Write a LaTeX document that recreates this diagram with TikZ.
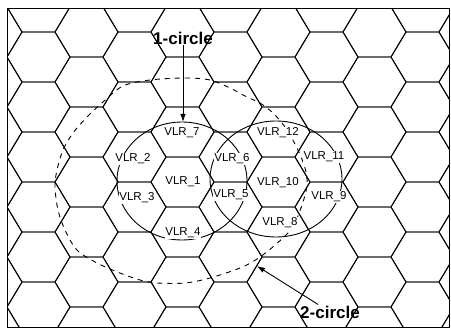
\documentclass[tikz,border=0pt]{standalone}
\usepackage{fontspec}
\setmainfont{Liberation Sans}
\usetikzlibrary{arrows.meta}
\begin{document}
\begin{tikzpicture}[x=1pt,y=-1pt,
  hexline/.style={line width=0.9pt, line join=round},
  frameline/.style={line width=1pt},
  vlr/.style={font=\fontsize{11.5}{12}\selectfont, fill=white, inner sep=0.8pt},
  tag/.style={font=\bfseries\fontsize{17}{18}\selectfont, inner sep=1pt},
  ring/.style={line width=0.9pt},
  bigring/.style={line width=0.9pt, dash pattern=on 5pt off 5pt},
  pointer/.style={line width=0.9pt, -{Latex[length=8pt,width=5.5pt]}}]
\useasboundingbox (0,0) rectangle (451,329);
% hexagonal cell grid
\begin{scope}
\clip (7.5,8.5) rectangle (449.5,327.5);
\foreach \k in {-1,...,9}{
  \pgfmathsetmacro\cx{38.5+48*\k}
  \pgfmathsetmacro\off{mod(\k+2,2)==0 ? 7 : 32}
  \foreach \n in {-1,...,7}{
    \pgfmathsetmacro\cy{\off+50*\n}
    \draw[hexline] (\cx-16.5,\cy-25) -- (\cx+16.5,\cy-25) -- (\cx+31.5,\cy)
      -- (\cx+16.5,\cy+25) -- (\cx-16.5,\cy+25) -- (\cx-31.5,\cy) -- cycle;
  }
}
\end{scope}
\draw[frameline] (7.5,8.5) rectangle (449.5,327.5);
% 1-circles
\draw[ring] (182,181) ellipse [x radius=65pt, y radius=59pt];
\draw[ring] (276,179) ellipse [x radius=66pt, y radius=58pt];
% 2-circle
\draw[bigring] plot[smooth cycle, tension=0.55] coordinates {
 (150,80) (185,78) (210,80) (230,88) (247,97) (260,103) (273,113) (285,127)
 (297,148) (305,168) (307,185) (302,205) (292,228) (274,246) (257,259)
 (240,268) (210,278) (185,283) (157,283) (140,280) (120,273) (97,263)
 (77,250) (65,230) (58,210) (55,187) (57,170) (63,150) (73,133) (87,117)
 (103,102) (123,86)};
% cell labels
\node[vlr] (v7) at (182,133) {VLR\_7};
\node[vlr] (v2) at (133,159) {VLR\_2};
\node[vlr] (v1) at (183,182) {VLR\_1};
\node[vlr] (v3) at (137,198) {VLR\_3};
\node[vlr] (v4) at (183,233) {VLR\_4};
\node[vlr] (v6) at (232,159) {VLR\_6};
\node[vlr] (v5) at (231,195) {VLR\_5};
\node[vlr] (v12) at (278,133) {VLR\_12};
\node[vlr] (v11) at (324,157) {VLR\_11};
\node[vlr] (v10) at (278,183) {VLR\_10};
\node[vlr] (v9) at (329,197) {VLR\_9};
\node[vlr] (v8) at (280,223) {VLR\_8};
% callouts
\node[tag] (c1) at (183,38) {1-circle};
\node[tag] (c2) at (330,312) {2-circle};
\coordinate (t1) at (183,122);
\coordinate (t2) at (257,266);
\draw[pointer] (c1) -- (t1);
\draw[pointer] (c2) -- (t2);
\end{tikzpicture}
\end{document}
